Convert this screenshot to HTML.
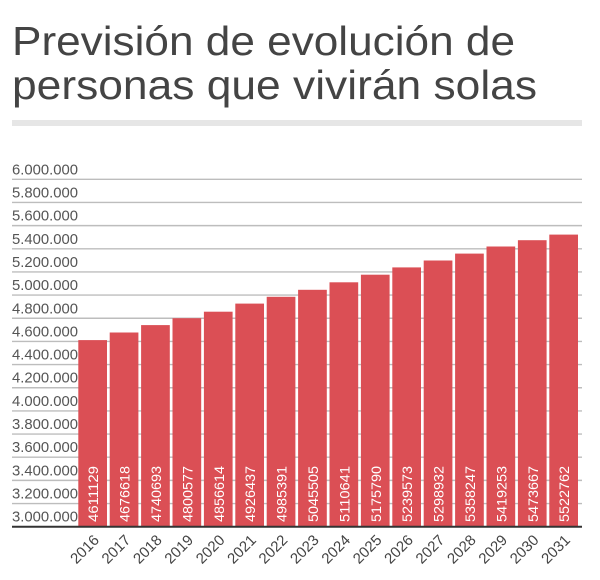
<!DOCTYPE html>
<html><head><meta charset="utf-8">
<style>
html,body{margin:0;padding:0;background:#fff;}
svg{display:block;}
text{font-family:"Liberation Sans",sans-serif;}
</style></head>
<body>
<svg width="600" height="580" viewBox="0 0 600 580" xmlns="http://www.w3.org/2000/svg">
<rect width="600" height="580" fill="#fff"/>
<text x="12" y="55" font-size="41" fill="#444" textLength="503" lengthAdjust="spacingAndGlyphs">Previsión de evolución de</text>
<text x="12" y="99" font-size="41" fill="#444" textLength="525" lengthAdjust="spacingAndGlyphs">personas que vivirán solas</text>
<rect x="12" y="120" width="570" height="6" fill="#e6e6e6"/>

<g stroke="#bdbdbd" stroke-width="1.4">
<line x1="12" x2="582" y1="179.3" y2="179.3"/>
<line x1="12" x2="582" y1="202.46" y2="202.46"/>
<line x1="12" x2="582" y1="225.62" y2="225.62"/>
<line x1="12" x2="582" y1="248.78" y2="248.78"/>
<line x1="12" x2="582" y1="271.94" y2="271.94"/>
<line x1="12" x2="582" y1="295.1" y2="295.1"/>
<line x1="12" x2="582" y1="318.26" y2="318.26"/>
<line x1="12" x2="582" y1="341.42" y2="341.42"/>
<line x1="12" x2="582" y1="364.58" y2="364.58"/>
<line x1="12" x2="582" y1="387.74" y2="387.74"/>
<line x1="12" x2="582" y1="410.9" y2="410.9"/>
<line x1="12" x2="582" y1="434.06" y2="434.06"/>
<line x1="12" x2="582" y1="457.22" y2="457.22"/>
<line x1="12" x2="582" y1="480.38" y2="480.38"/>
<line x1="12" x2="582" y1="503.54" y2="503.54"/>
</g>

<g font-size="15" fill="#555">
<text x="12" y="174.3" textLength="66" lengthAdjust="spacingAndGlyphs">6.000.000</text>
<text x="12" y="197.46" textLength="66" lengthAdjust="spacingAndGlyphs">5.800.000</text>
<text x="12" y="220.62" textLength="66" lengthAdjust="spacingAndGlyphs">5.600.000</text>
<text x="12" y="243.78" textLength="66" lengthAdjust="spacingAndGlyphs">5.400.000</text>
<text x="12" y="266.94" textLength="66" lengthAdjust="spacingAndGlyphs">5.200.000</text>
<text x="12" y="290.1" textLength="66" lengthAdjust="spacingAndGlyphs">5.000.000</text>
<text x="12" y="313.26" textLength="66" lengthAdjust="spacingAndGlyphs">4.800.000</text>
<text x="12" y="336.42" textLength="66" lengthAdjust="spacingAndGlyphs">4.600.000</text>
<text x="12" y="359.58" textLength="66" lengthAdjust="spacingAndGlyphs">4.400.000</text>
<text x="12" y="382.74" textLength="66" lengthAdjust="spacingAndGlyphs">4.200.000</text>
<text x="12" y="405.9" textLength="66" lengthAdjust="spacingAndGlyphs">4.000.000</text>
<text x="12" y="429.06" textLength="66" lengthAdjust="spacingAndGlyphs">3.800.000</text>
<text x="12" y="452.22" textLength="66" lengthAdjust="spacingAndGlyphs">3.600.000</text>
<text x="12" y="475.38" textLength="66" lengthAdjust="spacingAndGlyphs">3.400.000</text>
<text x="12" y="498.54" textLength="66" lengthAdjust="spacingAndGlyphs">3.200.000</text>
<text x="12" y="521.7" textLength="66" lengthAdjust="spacingAndGlyphs">3.000.000</text>
</g>

<g fill="#db4f55">
<rect x="78.3" y="340.1" width="28.7" height="186.6"/>
<rect x="109.7" y="332.5" width="28.7" height="194.2"/>
<rect x="141.1" y="325.1" width="28.7" height="201.6"/>
<rect x="172.5" y="318.2" width="28.7" height="208.5"/>
<rect x="203.9" y="311.7" width="28.7" height="215.0"/>
<rect x="235.3" y="303.6" width="28.7" height="223.1"/>
<rect x="266.7" y="296.8" width="28.7" height="229.9"/>
<rect x="298.1" y="289.8" width="28.7" height="236.9"/>
<rect x="329.5" y="282.3" width="28.7" height="244.4"/>
<rect x="360.9" y="274.7" width="28.7" height="252.0"/>
<rect x="392.3" y="267.4" width="28.7" height="259.3"/>
<rect x="423.7" y="260.5" width="28.7" height="266.2"/>
<rect x="455.1" y="253.6" width="28.7" height="273.1"/>
<rect x="486.5" y="246.5" width="28.7" height="280.2"/>
<rect x="517.9" y="240.2" width="28.7" height="286.5"/>
<rect x="549.3" y="234.6" width="28.7" height="292.1"/>
</g>

<line x1="12" x2="582" y1="526.7" y2="526.7" stroke="#333" stroke-width="2"/>

<g font-size="14" fill="#fff">
<text transform="translate(98.2,522) rotate(-90)" textLength="56" lengthAdjust="spacingAndGlyphs">4611129</text>
<text transform="translate(129.6,522) rotate(-90)" textLength="56" lengthAdjust="spacingAndGlyphs">4676618</text>
<text transform="translate(161.0,522) rotate(-90)" textLength="56" lengthAdjust="spacingAndGlyphs">4740693</text>
<text transform="translate(192.4,522) rotate(-90)" textLength="56" lengthAdjust="spacingAndGlyphs">4800577</text>
<text transform="translate(223.8,522) rotate(-90)" textLength="56" lengthAdjust="spacingAndGlyphs">4856614</text>
<text transform="translate(255.2,522) rotate(-90)" textLength="56" lengthAdjust="spacingAndGlyphs">4926437</text>
<text transform="translate(286.6,522) rotate(-90)" textLength="56" lengthAdjust="spacingAndGlyphs">4985391</text>
<text transform="translate(318.0,522) rotate(-90)" textLength="56" lengthAdjust="spacingAndGlyphs">5045505</text>
<text transform="translate(349.4,522) rotate(-90)" textLength="56" lengthAdjust="spacingAndGlyphs">5110641</text>
<text transform="translate(380.8,522) rotate(-90)" textLength="56" lengthAdjust="spacingAndGlyphs">5175790</text>
<text transform="translate(412.2,522) rotate(-90)" textLength="56" lengthAdjust="spacingAndGlyphs">5239573</text>
<text transform="translate(443.6,522) rotate(-90)" textLength="56" lengthAdjust="spacingAndGlyphs">5298932</text>
<text transform="translate(475.0,522) rotate(-90)" textLength="56" lengthAdjust="spacingAndGlyphs">5358247</text>
<text transform="translate(506.4,522) rotate(-90)" textLength="56" lengthAdjust="spacingAndGlyphs">5419253</text>
<text transform="translate(537.8,522) rotate(-90)" textLength="56" lengthAdjust="spacingAndGlyphs">5473667</text>
<text transform="translate(569.2,522) rotate(-90)" textLength="56" lengthAdjust="spacingAndGlyphs">5522762</text>
</g>

<g font-size="15" fill="#444" text-anchor="end">
<text transform="translate(100,541) rotate(-45)">2016</text>
<text transform="translate(131.4,541) rotate(-45)">2017</text>
<text transform="translate(162.8,541) rotate(-45)">2018</text>
<text transform="translate(194.2,541) rotate(-45)">2019</text>
<text transform="translate(225.6,541) rotate(-45)">2020</text>
<text transform="translate(257.0,541) rotate(-45)">2021</text>
<text transform="translate(288.4,541) rotate(-45)">2022</text>
<text transform="translate(319.8,541) rotate(-45)">2023</text>
<text transform="translate(351.2,541) rotate(-45)">2024</text>
<text transform="translate(382.6,541) rotate(-45)">2025</text>
<text transform="translate(414.0,541) rotate(-45)">2026</text>
<text transform="translate(445.4,541) rotate(-45)">2027</text>
<text transform="translate(476.8,541) rotate(-45)">2028</text>
<text transform="translate(508.2,541) rotate(-45)">2029</text>
<text transform="translate(539.6,541) rotate(-45)">2030</text>
<text transform="translate(571.0,541) rotate(-45)">2031</text>
</g>
</svg>
</body></html>
